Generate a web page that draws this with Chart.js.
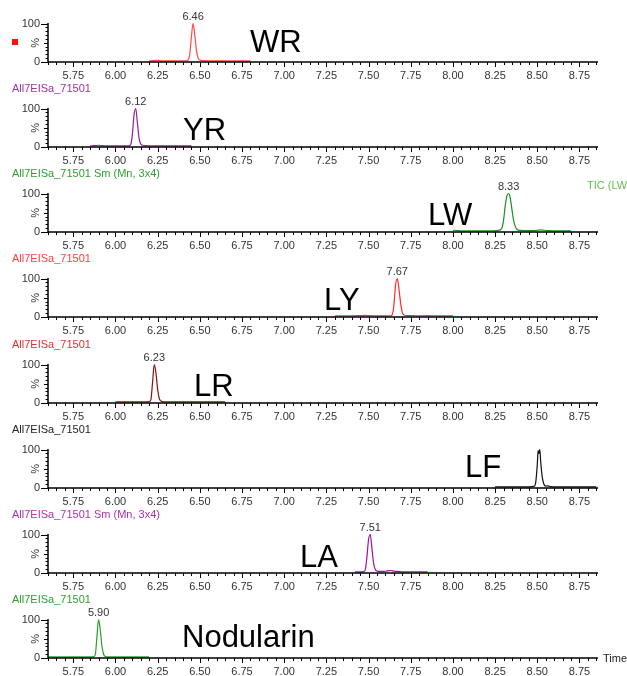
<!DOCTYPE html>
<html><head><meta charset="utf-8">
<script src="https://cdn.jsdelivr.net/npm/chart.js@4"></script>
<style>
html,body{margin:0;padding:0;background:#fff;}
body{width:627px;height:676px;position:relative;overflow:hidden;font-family:"Liberation Sans",Arial,sans-serif;}
canvas{position:absolute;left:0;}
.t{position:absolute;font-size:11px;line-height:12px;white-space:nowrap;}
.big{position:absolute;font-size:31px;line-height:31px;color:#000;white-space:nowrap;}
</style></head><body>
<div id="root"></div>
<script>
// ---------- DATA ----------
const xTickValues = [5.75, 6.00, 6.25, 6.50, 6.75, 7.00, 7.25, 7.50, 7.75, 8.00, 8.25, 8.50, 8.75];
const yTickValues = [0, 100];
const panelNames = ['WR', 'YR', 'LW', 'LY', 'LR', 'LF', 'LA', 'Nodularin'];
const panelTitles = ['', 'All7EISa_71501', 'All7EISa_71501 Sm (Mn, 3x4)', 'All7EISa_71501', 'All7EISa_71501', 'All7EISa_71501', 'All7EISa_71501 Sm (Mn, 3x4)', 'All7EISa_71501'];
const peakLabels = ['6.46', '6.12', '8.33', '7.67', '6.23', '', '7.51', '5.90'];

const wrTime = [6.20, 6.22, 6.24, 6.25, 6.26, 6.28, 6.32, 6.36, 6.40, 6.42, 6.43, 6.44, 6.45, 6.46, 6.47, 6.48, 6.49, 6.50, 6.52, 6.56, 6.60, 6.65, 6.70, 6.75, 6.80];
const wrIntensity = [3, 3.5, 4, 4.5, 4, 3.2, 3, 3, 3, 3, 5, 20, 65, 100, 70, 30, 10, 5, 3.5, 3.2, 3, 3, 3, 3, 3];

const yrTime = [5.85, 5.88, 5.90, 5.92, 5.95, 6.00, 6.05, 6.08, 6.09, 6.10, 6.11, 6.12, 6.13, 6.14, 6.15, 6.16, 6.18, 6.22, 6.28, 6.35, 6.40, 6.45];
const yrIntensity = [3, 3.5, 4.5, 3.5, 3, 3, 3, 3, 6, 32, 84, 100, 62, 22, 8, 4.5, 3.5, 3, 3, 3, 3, 3];

const lwTime = [8.00, 8.01, 8.03, 8.06, 8.10, 8.15, 8.20, 8.24, 8.27, 8.29, 8.30, 8.31, 8.32, 8.33, 8.34, 8.35, 8.36, 8.37, 8.38, 8.40, 8.44, 8.48, 8.50, 8.52, 8.54, 8.57, 8.62, 8.66, 8.70];
const lwIntensity = [3.5, 4.5, 3.5, 3, 3, 3, 3, 3.2, 4, 10, 30, 68, 94, 100, 88, 58, 30, 14, 7, 4, 3.5, 3.5, 4.5, 5.5, 4.5, 3.5, 3, 3, 3];

const lyTime = [7.30, 7.35, 7.40, 7.45, 7.48, 7.50, 7.55, 7.60, 7.63, 7.64, 7.65, 7.66, 7.67, 7.68, 7.69, 7.70, 7.71, 7.73, 7.76, 7.80, 7.85, 7.90, 7.95, 8.00];
const lyIntensity = [3, 3, 3, 3.5, 4, 3.5, 3, 3, 3.2, 6, 30, 82, 100, 74, 36, 12, 5, 3.5, 3.5, 3, 3.5, 3, 3, 3];

const lrTime = [6.00, 6.05, 6.10, 6.15, 6.18, 6.20, 6.21, 6.22, 6.23, 6.24, 6.25, 6.26, 6.27, 6.28, 6.30, 6.35, 6.40, 6.45, 6.50, 6.55, 6.60, 6.65];
const lrIntensity = [3, 3, 3, 3, 3, 3.5, 9, 55, 100, 78, 35, 11, 5, 3.5, 3, 3, 3, 3, 3, 3, 3, 3];

const lfTime = [8.25, 8.30, 8.35, 8.40, 8.45, 8.48, 8.49, 8.50, 8.505, 8.51, 8.515, 8.52, 8.53, 8.54, 8.55, 8.56, 8.57, 8.58, 8.62, 8.66, 8.70, 8.75, 8.80, 8.85];
const lfIntensity = [3, 3, 3, 3, 3, 4, 12, 60, 97, 90, 100, 70, 27, 9, 5, 5.5, 4.5, 3.5, 3, 3, 3, 3, 3, 3];

const laTime = [7.42, 7.45, 7.47, 7.48, 7.49, 7.50, 7.51, 7.52, 7.53, 7.54, 7.55, 7.57, 7.60, 7.62, 7.63, 7.64, 7.66, 7.70, 7.75, 7.80, 7.85];
const laIntensity = [3, 3, 3.5, 8, 40, 87, 100, 64, 25, 9, 5, 4, 4.5, 6, 6.5, 5.5, 4, 3, 3, 3, 3];

const nodTime = [5.60, 5.65, 5.70, 5.75, 5.80, 5.85, 5.87, 5.88, 5.89, 5.90, 5.91, 5.92, 5.93, 5.94, 5.96, 6.00, 6.05, 6.10, 6.15, 6.20];
const nodIntensity = [3, 3, 3, 3, 3, 3, 3.5, 8, 55, 100, 72, 30, 9, 4, 3, 3, 3, 3, 3, 3];

// ---------- LAYOUT / STYLE ----------
const X_MIN = 5.60, X_MAX = 8.86;
const series = [
  {t: wrTime, v: wrIntensity}, {t: yrTime, v: yrIntensity}, {t: lwTime, v: lwIntensity}, {t: lyTime, v: lyIntensity},
  {t: lrTime, v: lrIntensity}, {t: lfTime, v: lfIntensity}, {t: laTime, v: laIntensity}, {t: nodTime, v: nodIntensity}
];
const lineColors = ['#ff4848', '#9a1a9a', '#1e8c1e', '#ff2a2a', '#8c1010', '#111111', '#a010a0', '#2aa02a'];
const titleColors = ['#000', '#a030a0', '#30a030', '#ff4040', '#e03030', '#222', '#b030b0', '#30a030'];
const axisY0 = [62, 147, 232, 317, 403, 488, 573, 658];
const bigPos = [[250, 26], [183, 114], [428, 199], [324, 284], [194, 370], [465, 451], [300, 541], [182, 621]];

function addDiv(cls, text, left, top, color) {
  const d = document.createElement('div');
  d.className = cls; d.textContent = text;
  d.style.left = left + 'px'; d.style.top = top + 'px';
  if (color) d.style.color = color;
  document.body.appendChild(d);
  return d;
}

const decor = {
  id: 'decor',
  afterDraw(chart) {
    const ctx = chart.ctx, a = chart.chartArea;
    const xs = chart.scales.x, ys = chart.scales.y;
    ctx.save();
    ctx.strokeStyle = '#000'; ctx.lineWidth = 1.5;
    ctx.beginPath();
    ctx.moveTo(a.left, a.top - 0.5); ctx.lineTo(a.left, a.bottom);
    ctx.lineTo(a.right, a.bottom);
    ctx.stroke();
    ctx.lineWidth = 1;
    ctx.beginPath();
    for (let k = 0; ; k++) {
      const val = 5.60 + k * 0.05;
      if (val > X_MAX + 1e-9) break;
      const px = Math.round(xs.getPixelForValue(val)) + 0.5;
      const major = Math.abs(val / 0.25 - Math.round(val / 0.25)) < 1e-6;
      ctx.moveTo(px, a.bottom); ctx.lineTo(px, a.bottom + (major ? 5 : 3));
    }
    for (let k = 0; k <= 10; k++) {
      const py = Math.round(ys.getPixelForValue(k * 10)) + 0.5;
      const len = (k === 0 || k === 10) ? 7 : (k === 5 ? 4 : 2.5);
      ctx.moveTo(a.left, py); ctx.lineTo(a.left - len, py);
    }
    ctx.stroke();
    ctx.fillStyle = '#333';
    ctx.font = '11px "Liberation Sans", Arial, sans-serif';
    ctx.translate(a.left - 12, (a.top + a.bottom) / 2);
    ctx.rotate(-Math.PI / 2);
    ctx.textAlign = 'center'; ctx.textBaseline = 'middle';
    ctx.fillText('%', 0, 0);
    ctx.restore();
    const idx = chart.$panel;
    const lab = peakLabels[idx];
    if (lab) {
      const s = series[idx];
      let m = 0;
      for (let i = 1; i < s.v.length; i++) if (s.v[i] > s.v[m]) m = i;
      const px = xs.getPixelForValue(s.t[m]), py = ys.getPixelForValue(s.v[m]);
      ctx.save();
      ctx.fillStyle = '#333';
      ctx.font = '11px "Liberation Sans", Arial, sans-serif';
      ctx.textAlign = 'center'; ctx.textBaseline = 'bottom';
      ctx.fillText(lab, px, py - 1);
      ctx.restore();
    }
  }
};

series.forEach((s, i) => {
  const top = axisY0[i] - 60;
  const c = document.createElement('canvas');
  c.width = 627; c.height = 84;
  c.style.top = top + 'px';
  document.body.appendChild(c);
  const chart = new Chart(c, {
    type: 'line',
    data: {
      datasets: [{
        data: s.t.map((t, k) => ({x: t, y: s.v[k]})),
        borderColor: lineColors[i], borderWidth: 1.2, pointRadius: 0,
        cubicInterpolationMode: 'monotone', fill: false, clip: false
      }]
    },
    options: {
      responsive: false, animation: false, events: [],
      layout: {padding: {left: 0, right: 29, top: 21.5, bottom: 0}},
      plugins: {legend: {display: false}, tooltip: {enabled: false}, title: {display: false}},
      scales: {
        x: {
          type: 'linear', min: X_MIN, max: X_MAX,
          grid: {display: false, drawTicks: false}, border: {display: false},
          afterBuildTicks: sc => { sc.ticks = xTickValues.map(v => ({value: v})); },
          afterFit: sc => { sc.height = 24; },
          ticks: {
            autoSkip: false, maxRotation: 0, padding: 7, color: '#333',
            font: {family: '"Liberation Sans", Arial, sans-serif', size: 11},
            callback: v => Number(v).toFixed(2)
          }
        },
        y: {
          type: 'linear', min: 0, max: 100,
          grid: {display: false, drawTicks: false}, border: {display: false},
          afterBuildTicks: sc => { sc.ticks = yTickValues.map(v => ({value: v})); },
          afterFit: sc => { sc.width = 48; },
          ticks: {
            padding: 8, color: '#333',
            font: {family: '"Liberation Sans", Arial, sans-serif', size: 11},
            callback: v => String(v)
          }
        }
      }
    },
    plugins: [decor]
  });
  chart.$panel = i;
  chart.draw();
  if (panelTitles[i]) addDiv('t', panelTitles[i], 12, axisY0[i] - 65, titleColors[i]);
  addDiv('big', panelNames[i], bigPos[i][0], bigPos[i][1]);
});

const sq = document.createElement('div');
sq.style.cssText = 'position:absolute;left:12px;top:39px;width:6px;height:6px;background:#ff1010;';
document.body.appendChild(sq);
addDiv('t', 'TIC (LW', 587, 179, '#66bb55');
addDiv('t', 'Time', 603, 652, '#222');
</script>
</body></html>
